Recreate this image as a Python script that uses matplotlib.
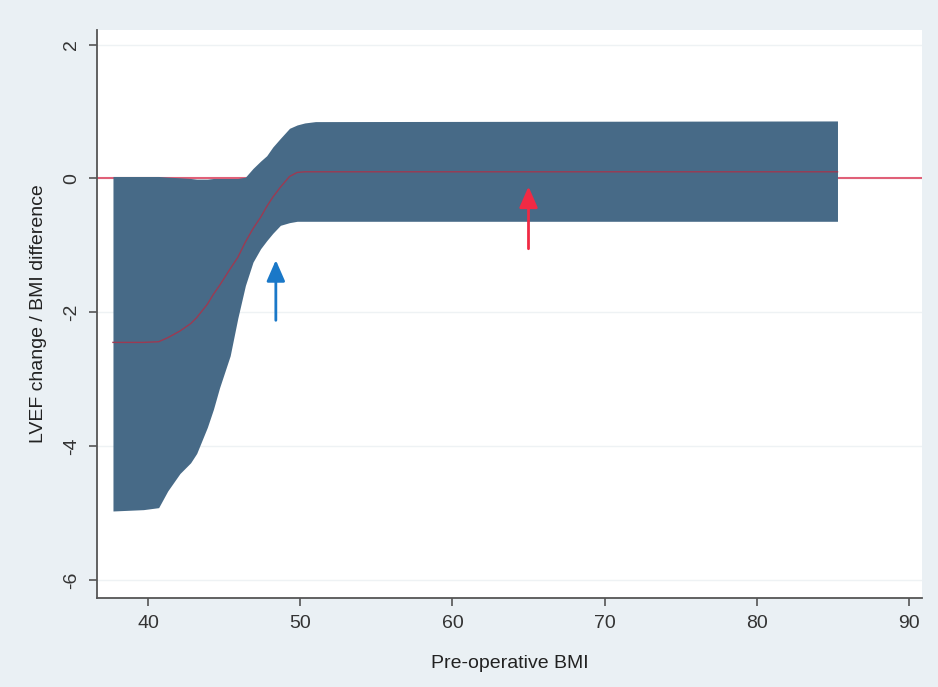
import matplotlib
matplotlib.use('Agg')
import matplotlib.pyplot as plt

plt.rcParams['font.family'] = ['Liberation Sans', 'DejaVu Sans']

# Pre-operative BMI grid with the fitted effect and its confidence band
bmi = [37.7, 39.7, 40.7, 41.3, 42.1, 42.8, 43.2, 43.9, 44.3, 44.7, 45.4, 45.9,
       46.4, 46.9, 47.4, 47.8, 48.2, 48.7, 49.3, 49.8, 50.3, 51.0, 85.3]
upper = [0.03, 0.03, 0.03, 0.02, 0.01, 0.0, -0.01, -0.01, 0.0, 0.0, 0.0, 0.0,
         0.02, 0.15, 0.26, 0.34, 0.47, 0.60, 0.75, 0.80, 0.83, 0.85, 0.86]
lower = [-4.97, -4.95, -4.92, -4.67, -4.41, -4.25, -4.11, -3.72, -3.45, -3.13, -2.65, -2.09,
         -1.60, -1.25, -1.05, -0.93, -0.82, -0.70, -0.66, -0.64, -0.64, -0.64, -0.64]
fit = [-2.45, -2.45, -2.44, -2.38, -2.28, -2.17, -2.08, -1.88, -1.73, -1.60, -1.35, -1.18,
       -0.95, -0.75, -0.58, -0.42, -0.28, -0.13, 0.03, 0.09, 0.10, 0.10, 0.10]

# annotation arrows: (x, y_tail, y_head)
blue_arrow = (48.4, -2.12, -1.22)
red_arrow = (65.0, -1.05, -0.12)

x_ticks = [40, 50, 60, 70, 80, 90]
y_ticks = [2, 0, -2, -4, -6]

fig = plt.figure(figsize=(9.38, 6.87), dpi=100, facecolor='#eaf0f4')
ax = fig.add_axes([0.1034, 0.1296, 0.8795, 0.8268])
ax.set_facecolor('white')

for yt in y_ticks:
    ax.axhline(yt, color='#eef2f4', lw=1.0, zorder=0)
ax.axhline(0, color='#e06078', lw=1.5, zorder=1)

ax.fill_between(bmi, lower, upper, color='#476a87', lw=0, zorder=2)
ax.plot(bmi, fit, color='#9c3a52', lw=1.0, zorder=3)

ax.annotate('', xy=(blue_arrow[0], blue_arrow[2]), xytext=(blue_arrow[0], blue_arrow[1]),
            arrowprops=dict(arrowstyle='-|>,head_length=0.8,head_width=0.35',
                            mutation_scale=16, color='#1a78c8', lw=2,
                            shrinkA=0, shrinkB=0), zorder=4)
ax.annotate('', xy=(red_arrow[0], red_arrow[2]), xytext=(red_arrow[0], red_arrow[1]),
            arrowprops=dict(arrowstyle='-|>,head_length=0.8,head_width=0.35',
                            mutation_scale=16, color='#f02a44', lw=2,
                            shrinkA=0, shrinkB=0), zorder=4)

ax.set_xlim(36.65, 90.85)
ax.set_ylim(-6.27, 2.22)
ax.set_xticks(x_ticks)
ax.set_yticks(y_ticks)
ax.set_yticklabels([str(v) for v in y_ticks], rotation=90, va='center')

for s in ['top', 'right']:
    ax.spines[s].set_visible(False)
for s in ['left', 'bottom']:
    ax.spines[s].set_color('#555555')
    ax.spines[s].set_linewidth(1.3)
ax.tick_params(axis='both', direction='out', length=6, width=1.2, color='#555555',
               labelsize=14, labelcolor='#333333', pad=6)

ax.set_xlabel('Pre-operative BMI', fontsize=14, color='#222222', labelpad=17)
ax.set_ylabel('LVEF change / BMI difference', fontsize=14, color='#222222', labelpad=12)

fig.savefig('out.png', dpi=100, facecolor=fig.get_facecolor())
